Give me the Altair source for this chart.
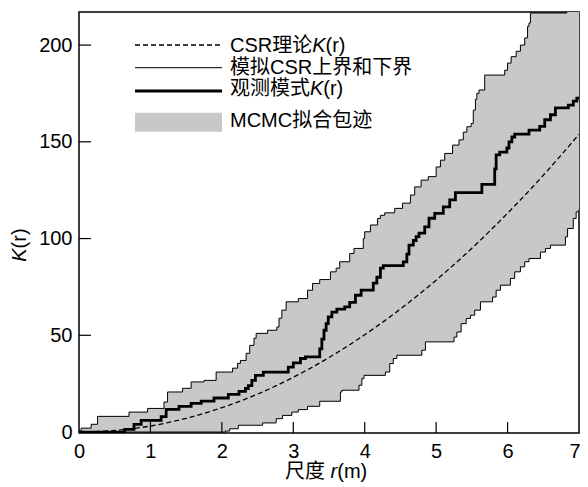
import altair as alt
import pandas as pd

FONT = "Liberation Sans, Arial, Noto Sans CJK SC, sans-serif"
FS = 20

# ---------------- data ----------------
csr_r = [0, 0.5, 1, 1.5, 2, 2.5, 3, 3.5, 4, 4.5, 5, 5.5, 6, 6.5, 7]
csr_k = [0, 0.8, 3.1, 7.1, 12.6, 19.6, 28.3, 38.5, 50.3, 63.6, 78.5, 95.0, 113.1, 132.7, 153.9]

obs_r = [0, 0.64, 0.77, 0.87, 1.15, 1.22, 1.4, 1.57, 1.71, 1.89, 2.09, 2.24, 2.33, 2.37,
         2.42, 2.47, 2.58, 2.93, 3.0, 3.1, 3.17, 3.37, 3.40, 3.43, 3.46, 3.49, 3.54, 3.61,
         3.72, 3.79, 3.87, 3.95, 4.12, 4.17, 4.22, 4.26, 4.54, 4.59, 4.62, 4.68, 4.72, 4.76,
         4.84, 4.9, 4.98, 5.1, 5.19, 5.27, 5.64, 5.82, 5.84, 5.89, 5.99, 6.02, 6.06, 6.1,
         6.3, 6.45, 6.52, 6.6, 6.67, 6.85, 6.92, 6.97, 7.0]
obs_k = [0, 1.4, 4, 6, 8, 11.7, 13.3, 14.8, 16, 17.6, 19.5, 21, 22.5, 24,
         26.7, 29.3, 31, 33.6, 35.7, 38, 38.8, 43, 48, 52.6, 56, 59.5, 62, 63.5,
         64.7, 67, 70.7, 73.3, 77, 80, 84.7, 86, 88, 92, 96.6, 99, 101, 102.8,
         106, 110.5, 113, 116.4, 120, 123.7, 128, 136, 143.3, 144.7, 146.8, 150, 152.5, 154,
         156, 158, 161.4, 164, 167.5, 169, 171, 172.6, 172.6]

up_r = [0, 0.03, 0.17, 0.26, 0.7, 0.96, 1.19, 1.24, 1.45, 1.57, 1.75, 1.92, 2.15, 2.22,
        2.26, 2.34, 2.39, 2.45, 2.48, 2.64, 2.77, 2.8, 2.84, 2.9, 3.07, 3.2, 3.27, 3.37,
        3.52, 3.6, 3.65, 3.79, 3.85, 3.98, 4.0, 4.08, 4.18, 4.22, 4.28, 4.42, 4.53, 4.64,
        4.7, 4.79, 4.89, 5.0, 5.06, 5.12, 5.23, 5.32, 5.38, 5.43, 5.49, 5.52, 5.55, 5.57,
        5.6, 5.68, 5.96, 6.0, 6.05, 6.12, 6.18, 6.24, 6.28, 6.3, 6.32, 6.83, 7.0]
up_k = [0.5, 2, 4, 8.1, 10.3, 12.2, 15.5, 20.7, 22.6, 25.9, 26.7, 31, 33, 35.5,
        37, 40.7, 44.8, 48.5, 51, 52.6, 54.3, 58.8, 63, 67.3, 69, 73.3, 76.8, 78.8,
        82.8, 84.7, 88, 92.3, 94.9, 100, 103.5, 107, 110.4, 112, 113.3, 115.6, 118.3, 122.5,
        126.7, 130.2, 132, 137, 140.5, 144, 148.3, 151, 155, 157.8, 159.5, 166.4, 172, 175,
        176.8, 184.5, 187, 190.7, 194, 196.8, 200, 203.7, 209.7, 211.4, 216.6, 230, 230]

lo_r = [0, 2.05, 2.11, 2.23, 2.57, 2.76, 2.85, 2.98, 3.07, 3.2, 3.37, 3.66, 3.68, 3.92,
        3.96, 3.99, 4.29, 4.35, 4.4, 4.45, 4.8, 4.85, 5.25, 5.29, 5.35, 5.42, 5.48, 5.54,
        5.62, 5.79, 5.84, 5.9, 6.04, 6.1, 6.18, 6.24, 6.3, 6.46, 6.53, 6.6, 6.81, 6.84,
        6.92, 6.96, 7.0]
lo_k = [0, 0.5, 1.7, 3.5, 4.7, 6.9, 8.6, 10.3, 11.6, 13.3, 15.9, 20.7, 21.6, 24.2,
        27.6, 29.3, 31, 35.4, 38, 39.7, 42.3, 46.6, 49.1, 51.7, 56, 58.7, 60.4, 63,
        67.3, 69.8, 73.3, 75.9, 79.4, 82.8, 85.4, 88, 89.7, 93, 94.9, 96.6, 100.9, 105.2,
        110.4, 113.8, 115]

x_labels = [0, 1, 2, 3, 4, 5, 6, 7]
y_labels = [0, 50, 100, 150, 200]
x_ticks = [1, 2, 3, 4, 5, 6]
y_ticks = [50, 100, 150, 200]

legend_texts = ["CSR理论", "模拟CSR上界和下界", "观测模式", "MCMC拟合包迹"]


def step_at(rs, ks, r):
    v = ks[0]
    for a, b in zip(rs, ks):
        if a <= r:
            v = b
        else:
            break
    return v


grid = sorted(set(up_r) | set(lo_r))
band = pd.DataFrame({
    "r": grid,
    "lo": [step_at(lo_r, lo_k, g) for g in grid],
    "hi": [step_at(up_r, up_k, g) for g in grid],
})
obs = pd.DataFrame({"r": obs_r, "k": obs_k})
up = pd.DataFrame({"r": up_r, "k": up_k})
lo = pd.DataFrame({"r": lo_r, "k": lo_k})
csr = pd.DataFrame({"r": csr_r, "k": csr_k})
one = pd.DataFrame({"a": [0]})

xs = alt.Scale(domain=[0, 7], nice=False, zero=False)
ys = alt.Scale(domain=[-0.5, 217.1], nice=False, zero=False)
xax = alt.Axis(values=x_labels, title=None, format="d", labelFlush=False,
               labelAlign={"expr": "datum.value == 7 ? 'right' : 'center'"},
               labelOffset={"expr": "datum.value == 7 ? 1 : 0"})
yax = alt.Axis(values=y_labels, title=None, format="d", labelFlush=False)


def X(f):
    return alt.X(f, scale=xs, axis=xax)


def Y(f):
    return alt.Y(f, scale=ys, axis=yax)


area = alt.Chart(band).mark_area(interpolate="step-after", color="#c8c8c8", clip=True).encode(
    x=X("r:Q"), y=Y("lo:Q"), y2="hi:Q",
)


def step_line(df, width):
    return alt.Chart(df).mark_line(interpolate="step-after", color="black",
                                   strokeWidth=width, clip=True).encode(
        x=X("r:Q"), y=Y("k:Q"),
    )


lower_line = step_line(lo, 1)
upper_line = step_line(up, 1)
obs_line = step_line(obs, 2.8)
csr_line = alt.Chart(csr).mark_line(interpolate="monotone", color="black", strokeWidth=1.3,
                                    strokeDash=[5, 3], clip=True).encode(
    x=X("r:Q"), y=Y("k:Q"),
)

xtick = alt.Chart(pd.DataFrame({"t": x_ticks})).mark_rule(color="black", strokeWidth=1.2).encode(
    x=X("t:Q"), y=alt.value(421), y2=alt.value(410))
ytick = alt.Chart(pd.DataFrame({"t": y_ticks})).mark_rule(color="black", strokeWidth=1.2).encode(
    y=Y("t:Q"), x=alt.value(0), x2=alt.value(12))


def txt(s, x, y, italic=False, angle=0):
    return alt.Chart(one).mark_text(
        text=s, align="left", baseline="middle", font=FONT, fontSize=FS,
        fontStyle="italic" if italic else "normal", angle=angle, color="black",
    ).encode(x=alt.value(x), y=alt.value(y))


# legend (drawn)
lx0, lx1, tx = 56, 143, 151
leg_dash = alt.Chart(one).mark_rule(color="black", strokeWidth=1.3, strokeDash=[5, 3]).encode(
    x=alt.value(lx0), x2=alt.value(lx1), y=alt.value(33))
leg_thin = alt.Chart(one).mark_rule(color="black", strokeWidth=1).encode(
    x=alt.value(lx0), x2=alt.value(lx1), y=alt.value(55.7))
leg_thick = alt.Chart(one).mark_rule(color="black", strokeWidth=2.8).encode(
    x=alt.value(lx0), x2=alt.value(lx1), y=alt.value(79))
leg_rect = alt.Chart(one).mark_rect(color="#c8c8c8").encode(
    x=alt.value(lx0), x2=alt.value(lx1), y=alt.value(100.7), y2=alt.value(119.7))

TY = 460
texts = [
    txt(legend_texts[0], tx, 33.8), txt("K", tx + 82.2, 33.8, italic=True), txt("(r)", tx + 95.5, 33.8),
    txt(legend_texts[1], tx, 55.5),
    txt(legend_texts[2], tx, 77), txt("K", tx + 80, 77, italic=True), txt("(r)", tx + 93.3, 77),
    txt(legend_texts[3], tx, 108.8),
    # x title
    txt("尺度", 206, TY), txt("r", 251.6, TY, italic=True), txt("(m)", 258.3, TY),
    # y title (rotated)
    txt("K", -59, 249.7, italic=True, angle=270), txt("(r)", -59, 236.4, angle=270),
]

chart = alt.layer(
    area, lower_line, upper_line, csr_line, obs_line, xtick, ytick,
    leg_dash, leg_thin, leg_thick, leg_rect, *texts,
).properties(
    width=500, height=421,
    padding={"left": 71, "top": 4, "right": 1, "bottom": 49},
    autosize=alt.AutoSizeParams(type="none"),
).configure_view(
    stroke="black", strokeWidth=1.5,
).configure_axis(
    labelFont=FONT, labelFontSize=FS, labelColor="black", ticks=False, tickSize=0,
    domain=False, grid=False,
).configure_axisX(labelPadding=8).configure_axisY(labelPadding=7)

chart.save("out.html", embed_options={"renderer": "svg", "actions": False})
